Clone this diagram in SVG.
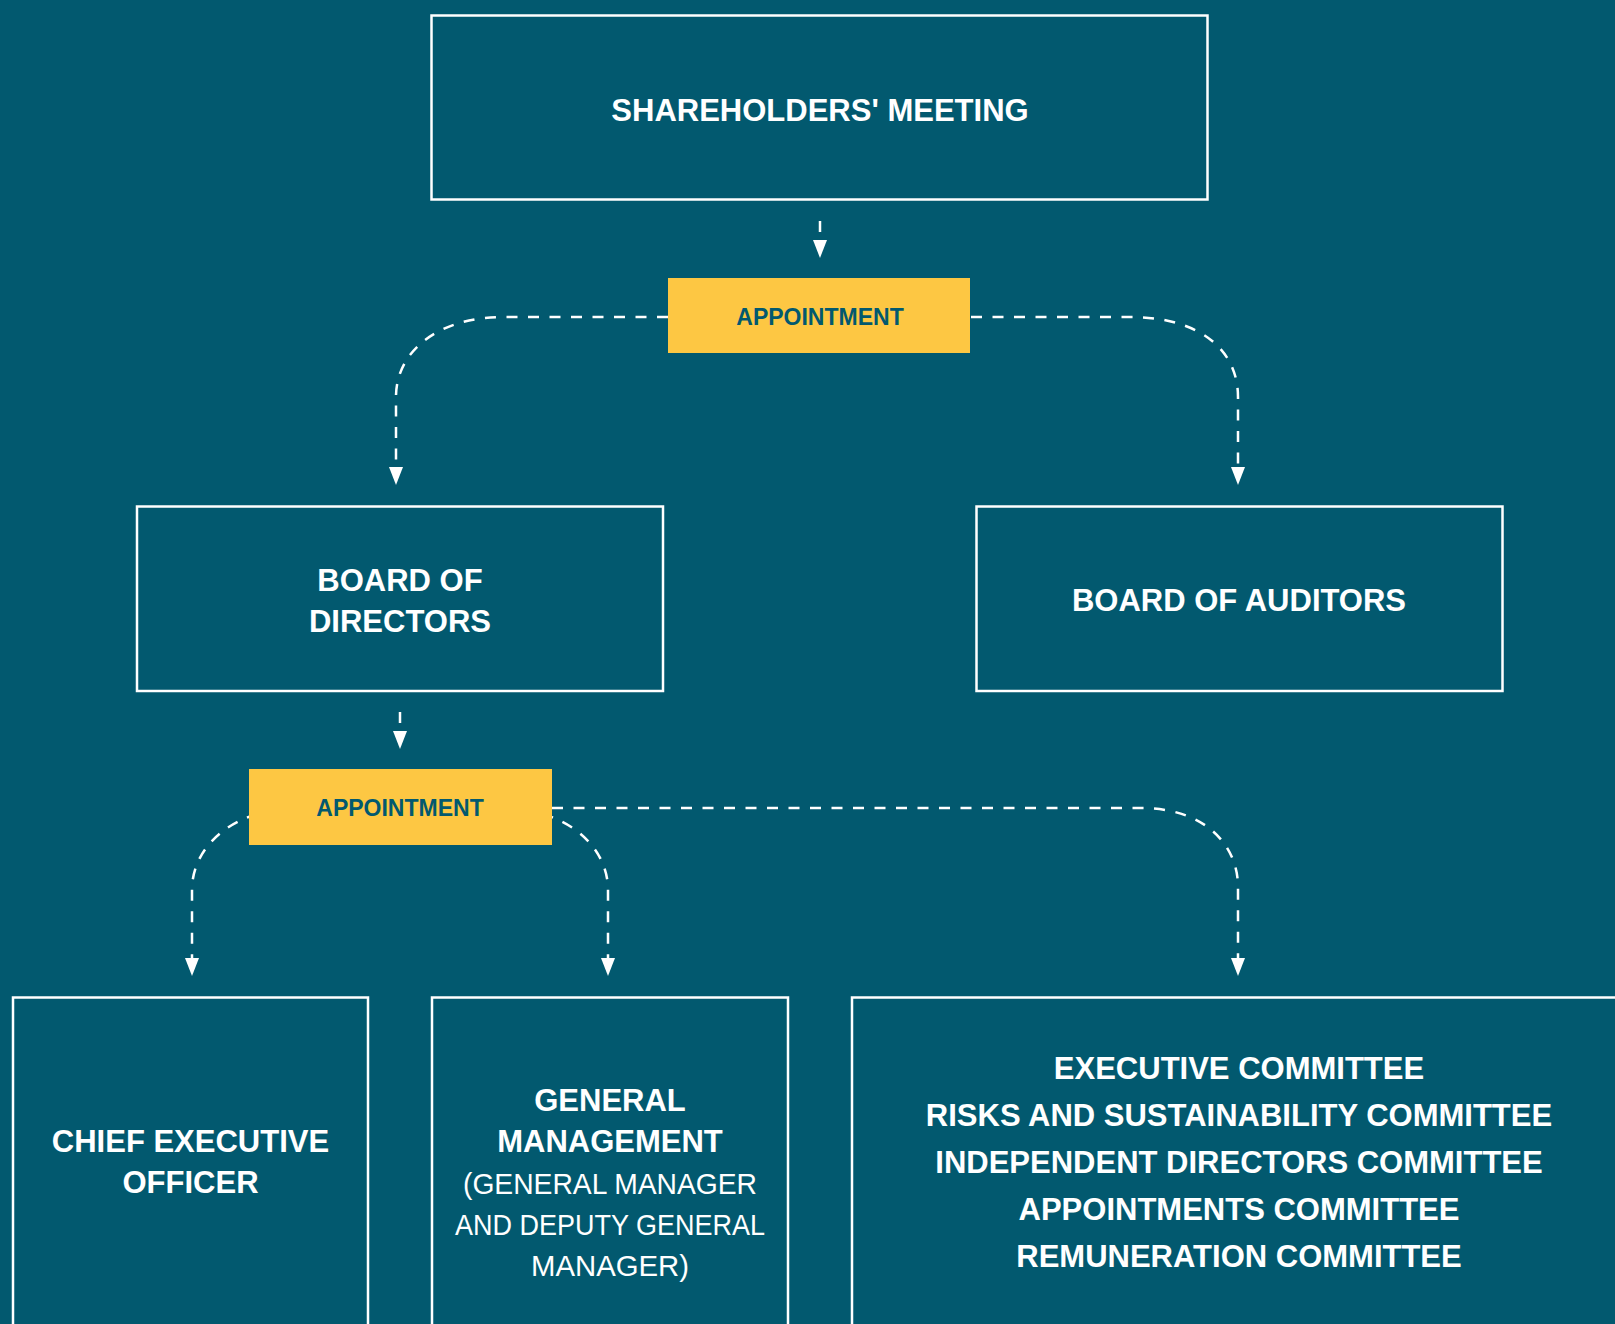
<svg xmlns="http://www.w3.org/2000/svg" width="1615" height="1324" viewBox="0 0 1615 1324">
  <defs>
    <style>
      .bg { fill: #02596f; }
      .box { fill: none; stroke: #ffffff; stroke-width: 2.5; }
      .tag { fill: #fdc743; }
      .conn { fill: none; stroke: #ffffff; stroke-width: 2.5; stroke-dasharray: 11 10.5; }
      .t { font-family: "Liberation Sans", Arial, sans-serif; font-weight: bold; font-size: 31px; fill: #ffffff; text-anchor: middle; }
      .tr { font-family: "Liberation Sans", Arial, sans-serif; font-weight: normal; font-size: 30px; fill: #ffffff; text-anchor: middle; }
      .tt { font-family: "Liberation Sans", Arial, sans-serif; font-weight: bold; font-size: 23px; fill: #02596f; text-anchor: middle; }
    </style>
    <marker id="arrow" markerUnits="userSpaceOnUse" markerWidth="18" markerHeight="14" viewBox="0 0 18 14" refX="0" refY="7" orient="auto">
      <path d="M0,0 L18,7 L0,14 z" fill="#ffffff"/>
    </marker>
  </defs>

  <rect class="bg" x="0" y="0" width="1615" height="1324"/>

  <g id="connectors">
    <path class="conn" d="M820 221 V240" marker-end="url(#arrow)"/>
    <path class="conn" d="M668 317 H503 C440 317 396 350 396 397 V467" marker-end="url(#arrow)"/>
    <path class="conn" d="M971 317 H1130 C1200 317 1238 350 1238 397 V467" marker-end="url(#arrow)"/>
    <path class="conn" d="M400 712 V731" marker-end="url(#arrow)"/>
    <path class="conn" d="M300 808 C235 808 192 845 192 890 V958" marker-end="url(#arrow)"/>
    <path class="conn" d="M500 808 C565 808 608 845 608 890 V958" marker-end="url(#arrow)"/>
    <path class="conn" d="M552 808 H1141 C1205 808 1238 845 1238 887 V958" marker-end="url(#arrow)"/>
  </g>

  <g id="shareholders-meeting">
    <rect class="box" x="431.5" y="15.5" width="776" height="184"/>
    <text class="t" x="820" y="120.5">SHAREHOLDERS' MEETING</text>
  </g>

  <g id="appointment-1">
    <rect class="tag" x="668" y="278" width="302" height="75"/>
    <text class="tt" x="820" y="324.5">APPOINTMENT</text>
  </g>

  <g id="board-of-directors">
    <rect class="box" x="137" y="506.5" width="526" height="184.5"/>
    <text class="t" x="400" y="591">BOARD OF</text>
    <text class="t" x="400" y="632">DIRECTORS</text>
  </g>

  <g id="board-of-auditors">
    <rect class="box" x="976.5" y="506.5" width="526" height="184.5"/>
    <text class="t" x="1239" y="611">BOARD OF AUDITORS</text>
  </g>

  <g id="appointment-2">
    <rect class="tag" x="249" y="769" width="303" height="76"/>
    <text class="tt" x="400" y="816">APPOINTMENT</text>
  </g>

  <g id="chief-executive-officer">
    <rect class="box" x="13" y="997.5" width="355" height="400"/>
    <text class="t" x="190.5" y="1152">CHIEF EXECUTIVE</text>
    <text class="t" x="190.5" y="1192.5">OFFICER</text>
  </g>

  <g id="general-management">
    <rect class="box" x="432" y="997.5" width="356" height="400"/>
    <text class="t" x="610" y="1111">GENERAL</text>
    <text class="t" x="610" y="1152">MANAGEMENT</text>
    <text class="tr" x="610" y="1193.5" textLength="294" lengthAdjust="spacingAndGlyphs">(GENERAL MANAGER</text>
    <text class="tr" x="610" y="1234.5" textLength="310" lengthAdjust="spacingAndGlyphs">AND DEPUTY GENERAL</text>
    <text class="tr" x="610" y="1275.5" textLength="158" lengthAdjust="spacingAndGlyphs">MANAGER)</text>
  </g>

  <g id="committees">
    <rect class="box" x="852" y="997.5" width="800" height="400"/>
    <text class="t" x="1239" y="1079">EXECUTIVE COMMITTEE</text>
    <text class="t" x="1239" y="1126">RISKS AND SUSTAINABILITY COMMITTEE</text>
    <text class="t" x="1239" y="1173">INDEPENDENT DIRECTORS COMMITTEE</text>
    <text class="t" x="1239" y="1220">APPOINTMENTS COMMITTEE</text>
    <text class="t" x="1239" y="1267">REMUNERATION COMMITTEE</text>
  </g>
</svg>
